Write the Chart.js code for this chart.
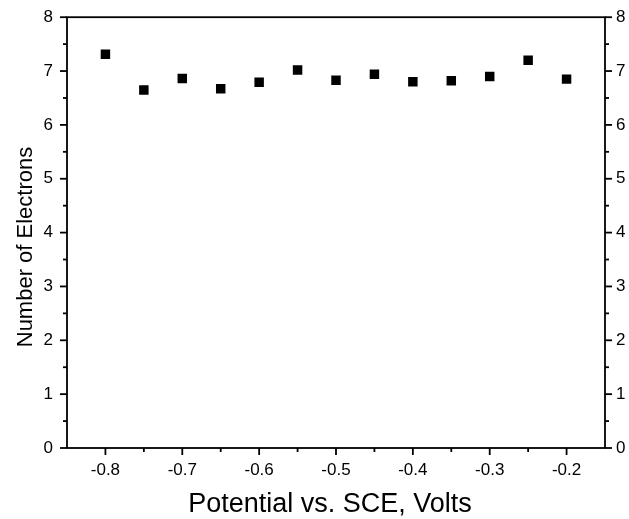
<!DOCTYPE html>
<html>
<head>
<meta charset="utf-8">
<script src="https://cdn.jsdelivr.net/npm/chart.js@4"></script>
<style>
  html, body { margin: 0; padding: 0; background: #fff; }
  #wrap { width: 629px; height: 519px; }
</style>
</head>
<body>
<div id="wrap"><canvas id="c" width="629" height="519"></canvas></div>
<script>
const potentials = [-0.80, -0.75, -0.70, -0.65, -0.60, -0.55, -0.50, -0.45, -0.40, -0.35, -0.30, -0.25, -0.20];
const electrons  = [7.31, 6.65, 6.86, 6.67, 6.79, 7.02, 6.83, 6.94, 6.80, 6.82, 6.90, 7.20, 6.85];
const xTickLabels = ["-0.8", "-0.7", "-0.6", "-0.5", "-0.4", "-0.3", "-0.2"];
const yTickLabels = ["0", "1", "2", "3", "4", "5", "6", "7", "8"];
const xTitle = "Potential vs. SCE, Volts";
const yTitle = "Number of Electrons";

const FONT = "'Liberation Sans', Arial, sans-serif";

function xLabel(v) {
  const s = v.toFixed(1);
  return Math.abs(v * 10 - Math.round(v * 10)) < 1e-6 && xTickLabels.includes(s) ? s : "";
}
function yLabel(v) {
  const s = String(Math.round(v));
  return Math.abs(v - Math.round(v)) < 1e-6 && yTickLabels.includes(s) ? s : "";
}

// frame, outward ticks (long for labelled, short for minor) and the axis titles
const frameTicks = {
  id: "frameTicks",
  afterDraw(chart) {
    const { ctx, chartArea: a, scales } = chart;
    ctx.save();
    ctx.strokeStyle = "#000";
    ctx.lineWidth = 1.8;
    ctx.strokeRect(a.left, a.top, a.right - a.left, a.bottom - a.top);

    const draw = (scale, fmt, side) => {
      scale.ticks.forEach(t => {
        const major = fmt(t.value) !== "";
        if (!major && (t.value === scale.min || t.value === scale.max)) return;
        const len = major ? 7 : 4;
        const p = scale.getPixelForValue(t.value);
        ctx.beginPath();
        if (side === "bottom") { ctx.moveTo(p, a.bottom); ctx.lineTo(p, a.bottom + len); }
        if (side === "left")   { ctx.moveTo(a.left, p);   ctx.lineTo(a.left - len, p); }
        if (side === "right")  { ctx.moveTo(a.right, p);  ctx.lineTo(a.right + len, p); }
        ctx.stroke();
      });
    };
    draw(scales.x, xLabel, "bottom");
    draw(scales.y, yLabel, "left");
    draw(scales.y2, yLabel, "right");

    ctx.fillStyle = "#000";
    ctx.textAlign = "center";
    ctx.textBaseline = "alphabetic";
    ctx.font = "27px " + FONT;
    ctx.fillText(xTitle, 330, 512);

    ctx.translate(32, 247);
    ctx.rotate(-Math.PI / 2);
    ctx.font = "22px " + FONT;
    ctx.fillText(yTitle, 0, 0);
    ctx.restore();
  }
};

const tickFont = { family: FONT, size: 17 };
const hiddenGrid = { display: true, drawOnChartArea: false, drawTicks: true, tickLength: 7, tickColor: "rgba(0,0,0,0)" };

new Chart(document.getElementById("c"), {
  type: "scatter",
  data: {
    datasets: [{
      data: potentials.map((x, i) => ({ x, y: electrons[i] })),
      pointStyle: "rect",
      pointRadius: 6.7,
      pointHoverRadius: 6.7,
      backgroundColor: "#000",
      borderColor: "#000",
      borderWidth: 0
    }]
  },
  options: {
    responsive: false,
    animation: false,
    events: [],
    layout: { padding: { top: 17, right: 0, bottom: 0, left: 0 } },
    plugins: { legend: { display: false }, tooltip: { enabled: false } },
    scales: {
      x: {
        type: "linear",
        min: -0.85,
        max: -0.15,
        grid: hiddenGrid,
        border: { display: false },
        ticks: { stepSize: 0.05, autoSkip: false, maxRotation: 0, color: "#000", font: tickFont, padding: 5, callback: xLabel },
        afterFit(s) { s.height = 71; }
      },
      y: {
        position: "left",
        min: 0,
        max: 8,
        grid: hiddenGrid,
        border: { display: false },
        ticks: { stepSize: 0.5, autoSkip: false, color: "#000", font: tickFont, padding: 7, callback: yLabel },
        afterFit(s) { s.width = 67; }
      },
      y2: {
        position: "right",
        min: 0,
        max: 8,
        grid: hiddenGrid,
        border: { display: false },
        ticks: { stepSize: 0.5, autoSkip: false, color: "#000", font: tickFont, padding: 4, callback: yLabel },
        afterFit(s) { s.width = 24; }
      }
    }
  },
  plugins: [frameTicks]
});
</script>
</body>
</html>
